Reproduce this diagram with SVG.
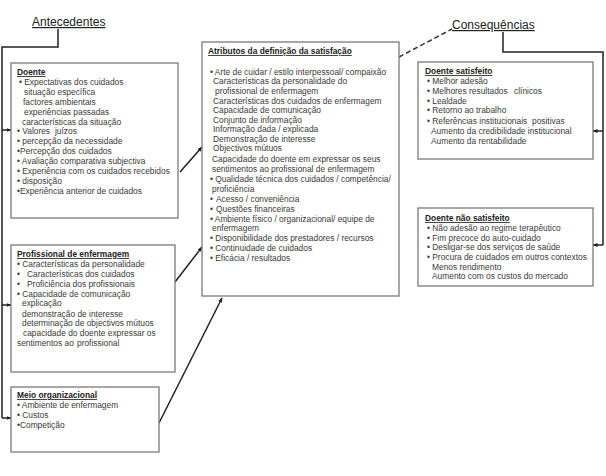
<svg xmlns="http://www.w3.org/2000/svg" width="606" height="476" viewBox="0 0 606 476" xml:space="preserve">
<defs>
<marker id="ah" viewBox="0 0 10 10" refX="9" refY="5" markerWidth="5" markerHeight="5" orient="auto" markerUnits="userSpaceOnUse">
<path d="M0,1 L10,5 L0,9 Z" fill="#222"/>
</marker>
</defs>
<style>
.bg{fill:#fff}
.box{fill:#fff;stroke:#7a7a7a;stroke-width:1.3}
text{font-family:"Liberation Sans",Arial,sans-serif;fill:#3a3a3a;font-size:8.4px;white-space:pre}
.hd{font-size:12px;fill:#222;text-decoration:underline}
.bt{font-weight:bold;text-decoration:underline;fill:#222}
.ln{fill:none;stroke:#222;stroke-width:1.5}
.ar{fill:none;stroke:#222;stroke-width:1.5;marker-end:url(#ah)}
.dash{fill:none;stroke:#333;stroke-width:1.5;stroke-dasharray:5,3}
</style>
<rect class="bg" x="0" y="0" width="606" height="476"/>

<text id="antecedentes" class="hd" x="32" y="26">Antecedentes</text>
<text id="consequencias" class="hd" x="452" y="29">Consequências</text>

<g id="connectors">
<path class="ln" d="M58,29 V47 H2 V418"/>
<path class="ar" d="M2,130 H11"/>
<path class="ar" d="M2,305 H11"/>
<path class="ar" d="M2,418 H11"/>
<path class="ar" d="M180,172 L202,147"/>
<path class="ar" d="M175,282 L202,247"/>
<path class="ar" d="M159,423 L222,298"/>
<path class="dash" d="M399,57 L452,29"/>
<path class="ln" d="M503,32 V52 H603 V245"/>
<path class="ar" d="M603,131 H593"/>
<path class="ar" d="M603,245 H593"/>
</g>

<g id="doente">
<rect class="box" x="11" y="63" width="167" height="155"/>
<text class="bt" x="17" y="75">Doente</text>
<text x="19" y="85">• Expectativas dos cuidados</text>
<text x="24" y="95">situação específica</text>
<text x="23" y="105">factores ambientais</text>
<text x="24" y="115">experiências passadas</text>
<text x="22" y="125">características da situação</text>
<text x="17" y="134">• Valores<tspan x="55">juízos</tspan></text>
<text x="17" y="144">• percepção da necessidade</text>
<text x="17" y="154">•Percepção dos cuidados</text>
<text x="17" y="164">• Avaliação comparativa subjectiva</text>
<text x="17" y="174">• Experiência com os cuidados recebidos</text>
<text x="17" y="184">• disposição</text>
<text x="17" y="194">•Experiência anterior de cuidados</text>
</g>

<g id="profissional">
<rect class="box" x="11" y="245" width="164" height="127"/>
<text class="bt" x="17" y="257">Profissional de enfermagem</text>
<text x="17" y="267">• Características da personalidade</text>
<text x="17" y="277">•<tspan x="27">Características dos cuidados</tspan></text>
<text x="17" y="287">•<tspan x="27">Proficiência dos profissionais</tspan></text>
<text x="17" y="297">• Capacidade de comunicação</text>
<text x="22" y="306">explicação</text>
<text x="22" y="317">demonstração de interesse</text>
<text x="22" y="326">determinação de objectivos mútuos</text>
<text x="23" y="336">capacidade do doente expressar os</text>
<text x="17" y="346">sentimentos ao<tspan x="77">profissional</tspan></text>
</g>

<g id="meio">
<rect class="box" x="11" y="387" width="148" height="65"/>
<text class="bt" x="17" y="398">Meio organizacional</text>
<text x="17" y="408">• Ambiente de enfermagem</text>
<text x="17" y="418">• Custos</text>
<text x="17" y="428">•Competição</text>
</g>

<g id="atributos">
<rect class="box" x="202" y="42" width="197" height="254"/>
<text class="bt" x="208" y="54">Atributos da definição da satisfação</text>
<text x="210" y="75">• Arte de cuidar / estilo interpessoal/ compaixão</text>
<text x="213" y="84">Características da personalidade do</text>
<text x="215" y="94">profissional de enfermagem</text>
<text x="213" y="104">Características dos cuidados de enfermagem</text>
<text x="213" y="113">Capacidade de comunicação</text>
<text x="213" y="123">Conjunto de informação</text>
<text x="213" y="132">Informação dada / explicada</text>
<text x="213" y="142">Demonstração de interesse</text>
<text x="213" y="151">Objectivos mútuos</text>
<text x="212" y="162">Capacidade do doente em expressar os seus</text>
<text x="212" y="172">sentimentos ao profissional de enfermagem</text>
<text x="210" y="182">• Qualidade técnica dos cuidados / competência/</text>
<text x="212" y="192">proficiência</text>
<text x="210" y="202">•<tspan x="216">Acesso / conveniência</tspan></text>
<text x="210" y="212">•<tspan x="216">Questões financeiras</tspan></text>
<text x="210" y="222">• Ambiente físico / organizacional/ equipe de</text>
<text x="212" y="231">enfermagem</text>
<text x="210" y="241">• Disponibilidade dos prestadores / recursos</text>
<text x="210" y="251">• Continuidade de cuidados</text>
<text x="210" y="261">• Eficácia / resultados</text>
</g>

<g id="satisfeito">
<rect class="box" x="418" y="62" width="175" height="97"/>
<text class="bt" x="425" y="74">Doente satisfeito</text>
<text x="427" y="84">• Melhor adesão</text>
<text x="427" y="94">• Melhores resultados<tspan x="514">clínicos</tspan></text>
<text x="427" y="104">• Lealdade</text>
<text x="427" y="113">• Retorno ao trabalho</text>
<text x="427" y="124">• Referências institucionais<tspan x="532">positivas</tspan></text>
<text x="431" y="134">Aumento da credibilidade institucional</text>
<text x="431" y="144">Aumento da rentabilidade</text>
</g>

<g id="nao-satisfeito">
<rect class="box" x="418" y="208" width="175" height="78"/>
<text class="bt" x="425" y="221">Doente não satisfeito</text>
<text x="427" y="231">• Não adesão ao regime terapêutico</text>
<text x="427" y="241">• Fim precoce do auto-cuidado</text>
<text x="427" y="250">• Desligar-se dos serviços de saúde</text>
<text x="427" y="260">• Procura de cuidados em outros contextos</text>
<text x="432" y="270">Menos rendimento</text>
<text x="432" y="279">Aumento com os custos do mercado</text>
</g>
</svg>
